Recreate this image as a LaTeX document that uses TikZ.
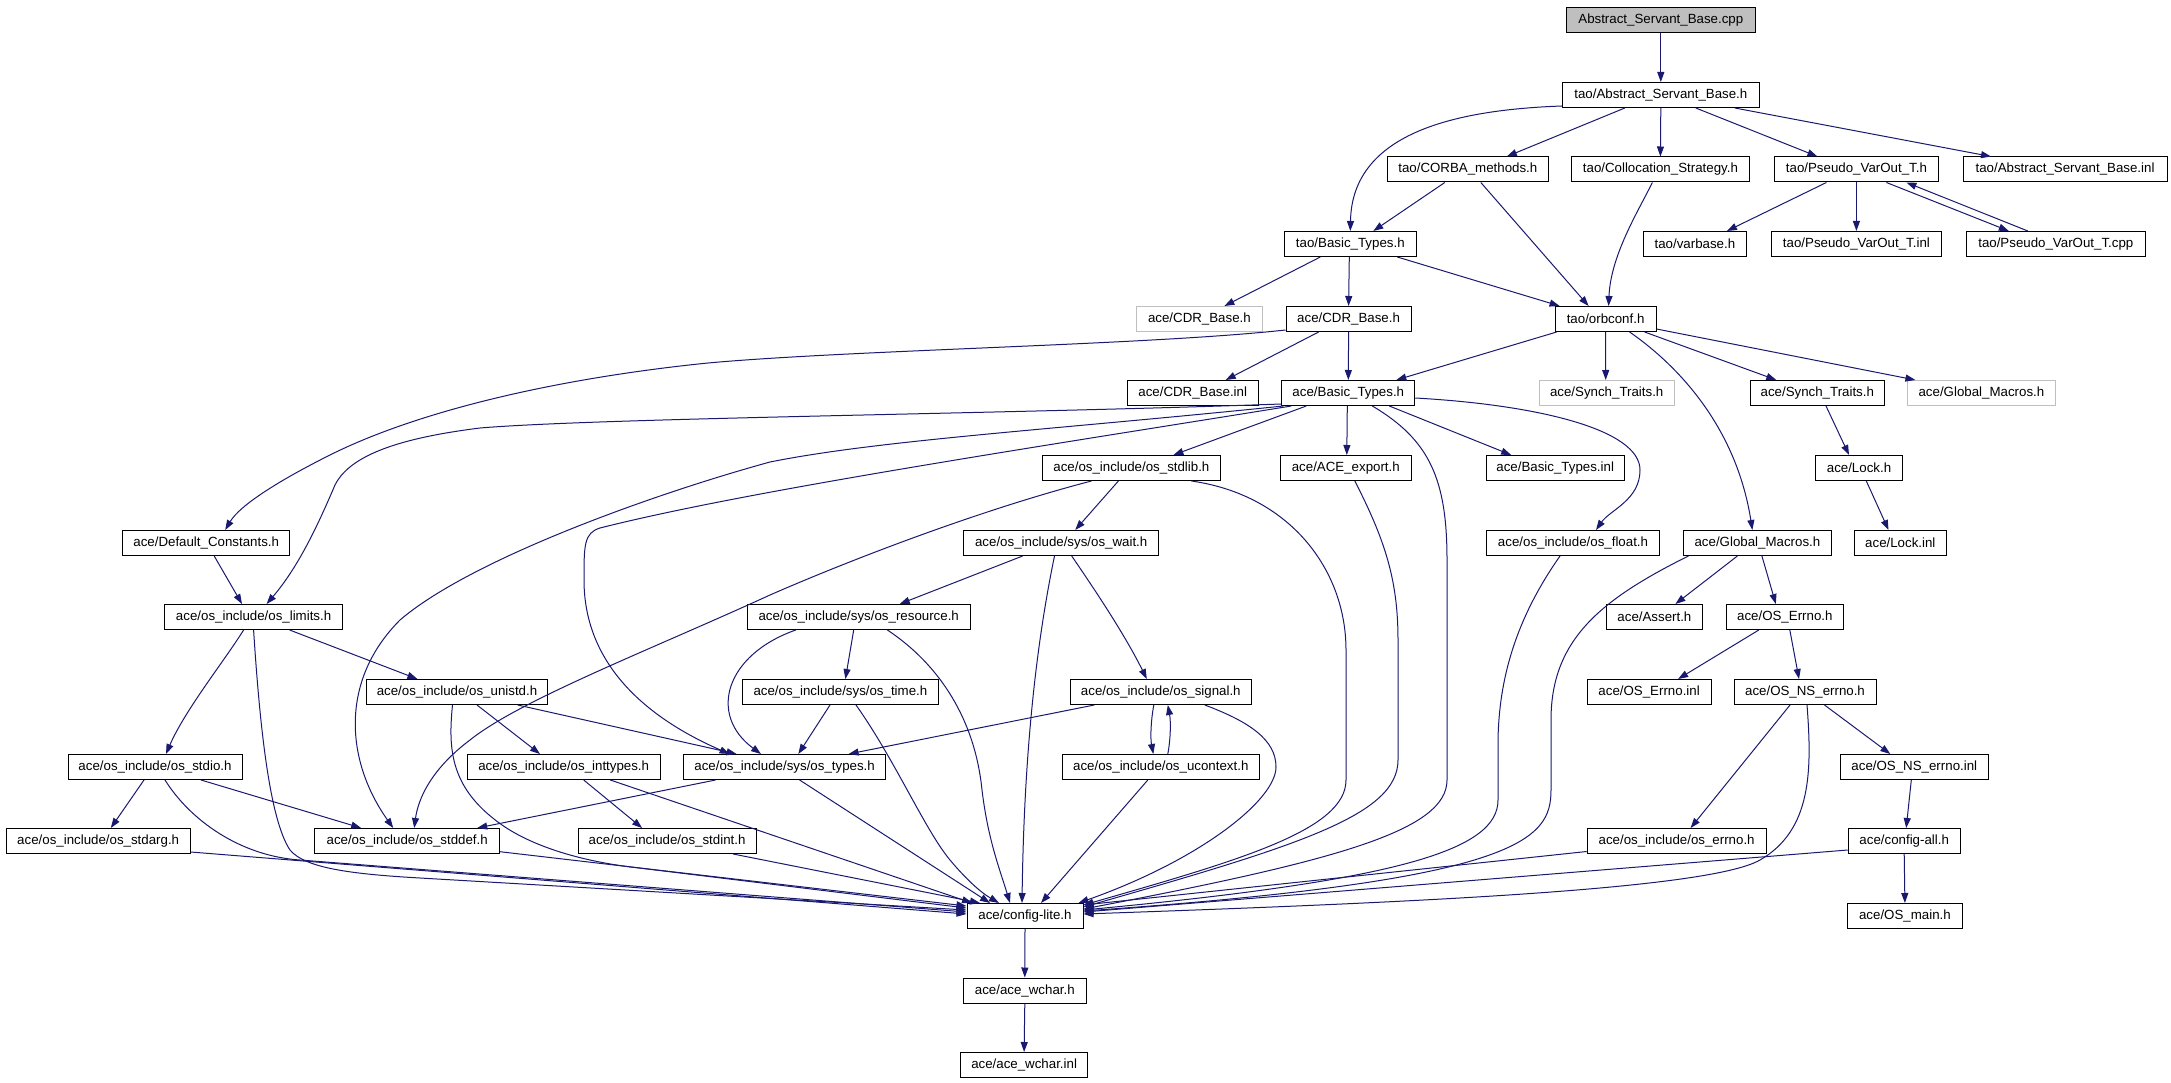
\documentclass[tikz,border=0pt]{standalone}
\usepackage{fontspec}
\setmainfont{Liberation Sans}
\usetikzlibrary{arrows.meta}
\definecolor{edgec}{HTML}{191970}
\definecolor{graybd}{HTML}{BFBFBF}
\tikzset{
  box/.style={draw=black, line width=1pt, minimum height=25pt, inner sep=0pt, fill=white, font=\fontsize{13.3}{16}\selectfont},
  gbox/.style={box, draw=graybd},
  rootbox/.style={box, fill=graybd},
  edge/.style={draw=edgec, line width=1pt, -{Triangle[length=10pt,width=7pt]}},
}
\begin{document}
\begin{tikzpicture}[x=1pt,y=-1pt]
\fill[white] (0,0) rectangle (2171,1083);
\useasboundingbox (0,0) rectangle (2171,1083);
% nodes
\node[rootbox, minimum width=188.5pt] (cpp) at (1660.8,20) {Abstract\_Servant\_Base.cpp};
\node[box, minimum width=196.7pt] (asbh) at (1660.8,95) {tao/Abstract\_Servant\_Base.h};
\node[box, minimum width=160.5pt] (corba) at (1467.8,169.5) {tao/CORBA\_methods.h};
\node[box, minimum width=178.3pt] (colloc) at (1660.4,169.5) {tao/Collocation\_Strategy.h};
\node[box, minimum width=164.6pt] (pvth) at (1856.4,169.5) {tao/Pseudo\_VarOut\_T.h};
\node[box, minimum width=204pt] (asbinl) at (2065,169.5) {tao/Abstract\_Servant\_Base.inl};
\node[box, minimum width=131.8pt] (tbt) at (1350.3,244) {tao/Basic\_Types.h};
\node[box, minimum width=103.8pt] (varbase) at (1694.9,244) {tao/varbase.h};
\node[box, minimum width=170pt] (pvtinl) at (1856.4,244) {tao/Pseudo\_VarOut\_T.inl};
\node[box, minimum width=179.6pt] (pvtcpp) at (2055.8,244) {tao/Pseudo\_VarOut\_T.cpp};
\node[gbox, minimum width=126pt] (cdrg) at (1199.4,319) {ace/CDR\_Base.h};
\node[box, minimum width=125.2pt] (cdr) at (1348.6,319) {ace/CDR\_Base.h};
\node[box, minimum width=100.9pt] (orbconf) at (1605.6,319) {tao/orbconf.h};
\node[box, minimum width=130.8pt] (cdrinl) at (1192.7,393) {ace/CDR\_Base.inl};
\node[box, minimum width=132.9pt] (abt) at (1348.3,393) {ace/Basic\_Types.h};
\node[gbox, minimum width=135pt] (synchg) at (1606.7,393) {ace/Synch\_Traits.h};
\node[box, minimum width=134.3pt] (synch) at (1817.3,393) {ace/Synch\_Traits.h};
\node[gbox, minimum width=148.2pt] (gmg) at (1981.4,393) {ace/Global\_Macros.h};
\node[box, minimum width=177.9pt] (stdlib) at (1131.4,468) {ace/os\_include/os\_stdlib.h};
\node[box, minimum width=130.8pt] (aceexp) at (1345.8,468) {ace/ACE\_export.h};
\node[box, minimum width=137.8pt] (btinl) at (1555.2,468) {ace/Basic\_Types.inl};
\node[box, minimum width=87pt] (lockh) at (1859,468) {ace/Lock.h};
\node[box, minimum width=167pt] (defc) at (206.2,543) {ace/Default\_Constants.h};
\node[box, minimum width=194.6pt] (wait) at (1061.2,543) {ace/os\_include/sys/os\_wait.h};
\node[box, minimum width=173.3pt] (float) at (1573,543) {ace/os\_include/os\_float.h};
\node[box, minimum width=148.2pt] (gm) at (1757.4,543) {ace/Global\_Macros.h};
\node[box, minimum width=91.8pt] (lockinl) at (1900.3,543) {ace/Lock.inl};
\node[box, minimum width=177.5pt] (limits) at (253.6,617) {ace/os\_include/os\_limits.h};
\node[box, minimum width=223.2pt] (resource) at (858.7,617) {ace/os\_include/sys/os\_resource.h};
\node[box, minimum width=96.7pt] (assert) at (1654.4,617) {ace/Assert.h};
\node[box, minimum width=116.9pt] (errno) at (1784.8,617) {ace/OS\_Errno.h};
\node[box, minimum width=181.7pt] (unistd) at (457,692) {ace/os\_include/os\_unistd.h};
\node[box, minimum width=196.4pt] (time) at (840.4,692) {ace/os\_include/sys/os\_time.h};
\node[box, minimum width=181pt] (signal) at (1160.8,692) {ace/os\_include/os\_signal.h};
\node[box, minimum width=123.9pt] (errinl) at (1649.1,692) {ace/OS\_Errno.inl};
\node[box, minimum width=142pt] (nserr) at (1805,692) {ace/OS\_NS\_errno.h};
\node[box, minimum width=174pt] (stdio) at (155,767) {ace/os\_include/os\_stdio.h};
\node[box, minimum width=192.9pt] (inttypes) at (563.7,767) {ace/os\_include/os\_inttypes.h};
\node[box, minimum width=202.7pt] (types) at (784.6,767) {ace/os\_include/sys/os\_types.h};
\node[box, minimum width=197pt] (ucontext) at (1160.8,767) {ace/os\_include/os\_ucontext.h};
\node[box, minimum width=147.5pt] (nserrinl) at (1914.3,767) {ace/OS\_NS\_errno.inl};
\node[box, minimum width=183.8pt] (stdarg) at (98.2,841) {ace/os\_include/os\_stdarg.h};
\node[box, minimum width=184.5pt] (stddef) at (407.2,841) {ace/os\_include/os\_stddef.h};
\node[box, minimum width=178.2pt] (stdint) at (667.1,841) {ace/os\_include/os\_stdint.h};
\node[box, minimum width=178.8pt] (oserrnoh) at (1676.6,841) {ace/os\_include/os\_errno.h};
\node[box, minimum width=112pt] (cfgall) at (1904.2,841) {ace/config-all.h};
\node[box, minimum width=116pt] (cfglite) at (1025,916) {ace/config-lite.h};
\node[box, minimum width=114.8pt] (osmain) at (1904.9,916) {ace/OS\_main.h};
\node[box, minimum width=122.8pt] (wchar) at (1024.8,990.5) {ace/ace\_wchar.h};
\node[box, minimum width=127.7pt] (wcharinl) at (1024.1,1065) {ace/ace\_wchar.inl};
% edges: top
\draw[edge] (cpp.south) -- (asbh.north);
\draw[edge] ([yshift=-11pt]asbh.west) .. controls (1450,110) and (1352,135) .. (tbt.north);
\draw[edge] ([xshift=-36pt]asbh.south) -- ([xshift=39pt]corba.north);
\draw[edge] (asbh.south) -- (colloc.north);
\draw[edge] ([xshift=35pt]asbh.south) -- ([xshift=-39pt]pvth.north);
\draw[edge] ([xshift=74pt]asbh.south) -- ([xshift=-74pt]asbinl.north);
\draw[edge] ([xshift=-23pt]corba.south) -- ([xshift=23pt]tbt.north);
\draw[edge] ([xshift=13pt]corba.south) -- ([xshift=-17pt]orbconf.north);
\draw[edge] ([xshift=-8pt]colloc.south) .. controls +(-15,30) and +(2,-50) .. ([xshift=3pt]orbconf.north);
\draw[edge] ([xshift=-30pt]pvth.south) -- ([xshift=32pt]varbase.north);
\draw[edge] (pvth.south) -- (pvtinl.north);
\draw[edge] ([xshift=30pt]pvth.south) -- ([xshift=-47pt]pvtcpp.north);
\draw[edge] ([xshift=-28pt]pvtcpp.north) -- ([xshift=50pt]pvth.south);
\draw[edge] ([xshift=-30pt]tbt.south) -- ([xshift=25pt]cdrg.north);
\draw[edge] ([xshift=-1pt]tbt.south) -- (cdr.north);
\draw[edge] ([xshift=47pt]tbt.south) -- ([xshift=-46pt]orbconf.north);
% CDR_Base.h
\draw[edge] ([yshift=-11pt]cdr.west) .. controls (1150,345) and (850,350) .. (708,363) .. controls (560,378) and (420,410) .. (330,455) .. controls (280,480) and (240,505) .. ([xshift=19pt]defc.north);
\draw[edge] ([xshift=-30pt]cdr.south) -- ([xshift=33pt]cdrinl.north);
\draw[edge] (cdr.south) -- (abt.north);
% orbconf
\draw[edge] ([xshift=-49pt]orbconf.south) -- ([xshift=48pt]abt.north);
\draw[edge] (orbconf.south) -- ([xshift=-1pt]synchg.north);
\draw[edge] ([xshift=24pt]orbconf.south) .. controls (1670,360) and (1735,420) .. ([xshift=-5pt]gm.north);
\draw[edge] ([xshift=39pt]orbconf.south) -- ([xshift=-41pt]synch.north);
\draw[edge] ([yshift=-10pt]orbconf.east) -- ([xshift=-66pt]gmg.north);
% ace/Basic_Types.h
\draw[edge] ([yshift=-11pt]abt.west) .. controls (1000,414) and (600,418) .. (480,428) .. controls (400,438) and (350,455) .. (335,485) .. controls (320,520) and (300,565) .. ([xshift=13pt]limits.north);
\draw[edge] ([xshift=2pt]abt.south west) .. controls (1050,430) and (880,440) .. (770,462) .. controls (650,495) and (470,560) .. (400,620) .. controls (340,680) and (345,760) .. ([xshift=-14pt]stddef.north);
\draw[edge] ([xshift=10pt]abt.south west) .. controls (1050,445) and (750,490) .. (600,528) .. controls (584,533) and (584,545) .. (584,580) .. controls (584,660) and (640,715) .. ([xshift=-55pt]types.north);
\draw[edge] ([xshift=-42pt]abt.south) -- ([xshift=42pt]stdlib.north);
\draw[edge] ([xshift=-1pt]abt.south) -- ([xshift=1pt]aceexp.north);
\draw[edge] ([xshift=24pt]abt.south) .. controls (1430,440) and (1447,480) .. (1447,560) -- (1447,780) .. controls (1447,830) and (1340,860) .. ([yshift=7pt]cfglite.east);
\draw[edge] ([xshift=41pt]abt.south) -- ([xshift=-44pt]btinl.north);
\draw[edge] ([yshift=-5pt]abt.east) .. controls (1540,405) and (1640,430) .. (1640,470) .. controls (1640,500) and (1610,510) .. ([xshift=23pt]float.north);
% os_stdlib
\draw[edge] ([xshift=-13pt]stdlib.south) -- ([xshift=14pt]wait.north);
\draw[edge] ([xshift=-40pt]stdlib.south) .. controls (980,510) and (850,560) .. (770,595) .. controls (650,650) and (520,700) .. (470,740) .. controls (430,770) and (418,800) .. ([xshift=7pt]stddef.north);
\draw[edge] ([xshift=60pt]stdlib.south) .. controls (1290,495) and (1346,570) .. (1346,650) -- (1346,780) .. controls (1346,830) and (1240,860) .. ([yshift=11pt]cfglite.east);
% ACE_export, os_float
\draw[edge] ([xshift=9pt]aceexp.south) .. controls (1385,540) and (1398,580) .. (1398,640) -- (1398,760) .. controls (1398,815) and (1300,845) .. ([yshift=9pt]cfglite.east);
\draw[edge] ([xshift=-13pt]float.south) .. controls (1515,620) and (1499,680) .. (1498,740) -- (1498,800) .. controls (1498,850) and (1400,880) .. ([yshift=6pt]cfglite.east);
% Global_Macros
\draw[edge] ([xshift=-69pt]gm.south) .. controls (1600,600) and (1551,640) .. (1551,720) -- (1551,790) .. controls (1551,840) and (1520,880) .. ([yshift=5pt]cfglite.east);
\draw[edge] ([xshift=-20pt]gm.south) -- ([xshift=21pt]assert.north);
\draw[edge] ([xshift=4.5pt]gm.south) -- ([xshift=-9pt]errno.north);
\draw[edge] ([xshift=-26pt]errno.south) -- ([xshift=29pt]errinl.north);
\draw[edge] ([xshift=5pt]errno.south) -- ([xshift=-6pt]nserr.north);
\draw[edge] ([xshift=-15pt]nserr.south) -- ([xshift=14pt]oserrnoh.north);
\draw[edge] ([xshift=19.5pt]nserr.south) -- ([xshift=-24pt]nserrinl.north);
\draw[edge] ([xshift=2pt]nserr.south) .. controls (1812,770) and (1812,830) .. (1760,860) .. controls (1708,890) and (1400,903) .. ([yshift=2pt]cfglite.east);
\draw[edge] ([xshift=-3pt]nserrinl.south) -- ([xshift=2pt]cfgall.north);
\draw[edge] (cfgall.south) -- (osmain.north);
\draw[edge] ([yshift=-9pt]cfgall.west) -- ([yshift=4pt]cfglite.east);
\draw[edge] ([yshift=-10.5pt]oserrnoh.west) -- ([yshift=11pt]cfglite.east);
% signal / ucontext
\draw[edge] ([xshift=44pt]signal.south) .. controls (1250,722) and (1276,740) .. (1276,767) .. controls (1276,800) and (1200,860) .. ([xshift=-5pt]cfglite.north east);
\draw[edge] ([xshift=-66.5pt]signal.south) -- ([xshift=64pt]types.north);
\draw[edge] ([xshift=-7pt]signal.south) .. controls +(-3,16) and +(-3,-16) .. ([xshift=-7.5pt]ucontext.north);
\draw[edge] ([xshift=7pt]ucontext.north) .. controls +(3,-16) and +(3,16) .. ([xshift=7pt]signal.south);
\draw[edge] ([xshift=-13pt]ucontext.south) -- ([xshift=16pt]cfglite.north);
% os_wait
\draw[edge] ([xshift=-38.6pt]wait.south) -- ([xshift=41pt]resource.north);
\draw[edge] ([xshift=-6.7pt]wait.south) .. controls (1035,650) and (1024,760) .. ([xshift=-3pt]cfglite.north);
\draw[edge] ([xshift=10.5pt]wait.south) .. controls (1095,590) and (1125,635) .. ([xshift=-14pt]signal.north);
% os_resource / os_time
\draw[edge] ([xshift=-63pt]resource.south) .. controls (725,655) and (708,715) .. ([xshift=-23.6pt]types.north);
\draw[edge] ([xshift=-5pt]resource.south) -- ([xshift=5pt]time.north);
\draw[edge] ([xshift=28.7pt]resource.south) .. controls (940,665) and (975,720) .. (982,790) .. controls (988,840) and (1000,870) .. ([xshift=-15pt]cfglite.north);
\draw[edge] ([xshift=-10.4pt]time.south) -- ([xshift=13.7pt]types.north);
\draw[edge] ([xshift=15.6pt]time.south) .. controls (895,760) and (925,830) .. (950,860) .. controls (965,878) and (980,892) .. ([xshift=-26pt]cfglite.north);
% os_limits
\draw[edge] ([xshift=-10pt]limits.south) .. controls (225,660) and (185,710) .. ([xshift=11pt]stdio.north);
\draw[edge] ([xshift=36pt]limits.south) -- ([xshift=-39.6pt]unistd.north);
\draw[edge] (limits.south) .. controls (260,730) and (270,820) .. (290,850) .. controls (305,868) and (350,874) .. (420,878) -- ([yshift=6pt]cfglite.west);
% os_unistd
\draw[edge] ([xshift=60.7pt]unistd.south) -- ([xshift=-48pt]types.north);
\draw[edge] ([xshift=20pt]unistd.south) -- ([xshift=-23.7pt]inttypes.north);
\draw[edge] ([xshift=-4.5pt]unistd.south) .. controls (448,750) and (450,790) .. (505,827) .. controls (540,850) and (590,862) .. (631,867) -- ([yshift=8pt]cfglite.west);
% os_stdio
\draw[edge] ([xshift=-11pt]stdio.south) -- ([xshift=12.6pt]stdarg.north);
\draw[edge] ([xshift=46pt]stdio.south) -- ([xshift=-46pt]stddef.north);
\draw[edge] ([xshift=10pt]stdio.south) .. controls (190,820) and (240,856) .. (300,860) -- ([yshift=4pt]cfglite.west);
% bottom-left
\draw[edge] ([yshift=-11pt]stdarg.east) -- ([yshift=2pt]cfglite.west);
\draw[edge] ([yshift=-10.7pt]stddef.east) -- ([yshift=10pt]cfglite.west);
\draw[edge] ([xshift=20pt]inttypes.south) -- ([xshift=-25pt]stdint.north);
\draw[edge] ([xshift=46.6pt]inttypes.south) -- ([xshift=-53pt]cfglite.north);
\draw[edge] ([xshift=66pt]stdint.south) -- ([xshift=-45pt]cfglite.north);
\draw[edge] ([xshift=-69pt]types.south) -- ([xshift=70pt]stddef.north);
\draw[edge] ([xshift=15pt]types.south) -- ([xshift=-35pt]cfglite.north);
\draw[edge] ([xshift=8pt]defc.south) -- ([xshift=-11.6pt]limits.north);
% right
\draw[edge] ([xshift=8.7pt]synch.south) -- ([xshift=-10pt]lockh.north);
\draw[edge] ([xshift=7.3pt]lockh.south) -- ([xshift=-11.8pt]lockinl.north);
% bottom
\draw[edge] (cfglite.south) -- (wchar.north);
\draw[edge] (wchar.south) -- (wcharinl.north);
\end{tikzpicture}
\end{document}
